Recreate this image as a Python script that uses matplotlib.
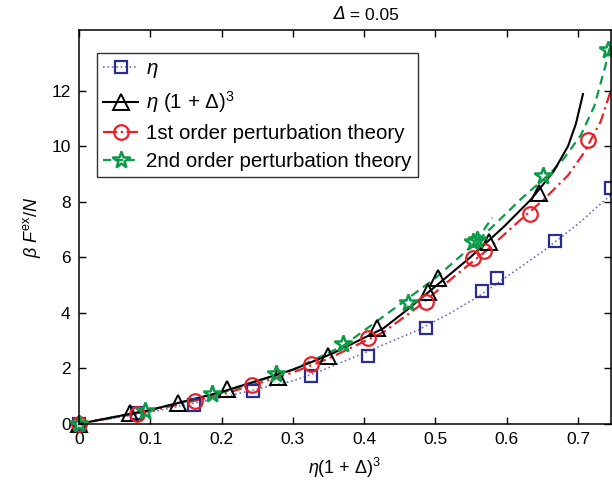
import numpy as np
import matplotlib
matplotlib.use("Agg")
import matplotlib.pyplot as plt
from matplotlib.lines import Line2D

plt.rcParams['font.family'] = ['Liberation Sans', 'DejaVu Sans']
plt.rcParams['mathtext.fontset'] = 'custom'
plt.rcParams['mathtext.rm'] = 'Liberation Sans'
plt.rcParams['mathtext.it'] = 'Liberation Sans:italic'

# markers
eta_x = [0.0, 0.081, 0.162, 0.244, 0.325, 0.406, 0.487, 0.566, 0.587, 0.668, 0.746]
eta_y = [0.0, 0.38, 0.69, 1.2, 1.74, 2.46, 3.44, 4.78, 5.25, 6.59, 8.5]

tri_x = [0.0, 0.072, 0.139, 0.207, 0.279, 0.35, 0.418, 0.489, 0.504, 0.575, 0.646]
tri_y = [0.0, 0.4, 0.76, 1.27, 1.70, 2.45, 3.44, 4.75, 5.25, 6.56, 8.33]

first_x = [0.0, 0.082, 0.163, 0.243, 0.325, 0.406, 0.487, 0.553, 0.568, 0.633, 0.714]
first_y = [0.0, 0.36, 0.83, 1.41, 2.17, 3.08, 4.38, 5.98, 6.23, 7.57, 10.22]

second_x = [0.0, 0.093, 0.186, 0.277, 0.37, 0.462, 0.553, 0.559, 0.651, 0.742]
second_y = [0.0, 0.47, 1.09, 1.81, 2.86, 4.35, 6.55, 6.62, 8.93, 13.45]

# fitted curves
eta_cx = [0.0, 0.1, 0.2, 0.3, 0.334, 0.404, 0.475, 0.521, 0.559, 0.6, 0.65, 0.7, 0.746]
eta_cy = [0.0, 0.42, 0.95, 1.55, 1.85, 2.6, 3.37, 3.99, 4.57, 5.3, 6.2, 7.2, 8.25]

tri_cx = [0.0, 0.1, 0.2, 0.3, 0.356, 0.427, 0.46, 0.5, 0.549, 0.596, 0.634, 0.666, 0.686, 0.697, 0.707]
tri_cy = [0.0, 0.5, 1.15, 1.95, 2.54, 3.44, 4.1, 4.95, 6.0, 7.1, 8.08, 9.1, 10.0, 10.8, 11.88]

first_cx = [0.0, 0.1, 0.2, 0.3, 0.35, 0.427, 0.475, 0.523, 0.573, 0.615, 0.652, 0.686, 0.708, 0.732, 0.746]
first_cy = [0.0, 0.47, 1.05, 1.85, 2.35, 3.3, 4.2, 5.24, 6.27, 7.25, 8.08, 8.95, 9.75, 10.9, 12.0]

second_cx = [0.0, 0.1, 0.2, 0.3, 0.37, 0.45, 0.5, 0.54, 0.58, 0.62, 0.66, 0.68, 0.704, 0.723, 0.739, 0.746]
second_cy = [0.0, 0.5, 1.12, 1.95, 2.8, 4.3, 5.25, 6.15, 7.1, 8.1, 9.0, 9.55, 10.4, 11.45, 12.95, 13.7]

branch_x = [0.556, 0.58]
branch_y = [6.56, 7.43]

blue_m = '#2B2D8E'
blue_l = '#6B6FC9'
red = '#E8202A'
green = '#0B9B4A'

fig = plt.figure(figsize=(6.12, 4.94), dpi=100)
ax = fig.add_axes([0.129, 0.142, 0.869, 0.798])

ax.plot(eta_cx, eta_cy, ':', color=blue_l, lw=1.2)
ax.plot(first_cx, first_cy, '-.', color=red, lw=1.6, dashes=(5, 2, 1, 2))
ax.plot(second_cx, second_cy, '--', color=green, lw=1.6, dashes=(4, 2.5))
ax.plot(branch_x, branch_y, '--', color=green, lw=1.6, dashes=(4, 2.5))
ax.plot(tri_cx, tri_cy, '-', color='black', lw=1.5)

ax.plot(eta_x, eta_y, 's', ms=8.5, mfc='none', mec=blue_m, mew=1.6, clip_on=False)
ax.plot(tri_x, tri_y, '^', ms=12, mfc='none', mec='black', mew=1.4, clip_on=False)
ax.plot(first_x, first_y, 'o', ms=10.5, mfc='none', mec=red, mew=1.6, clip_on=False)
ax.plot(second_x, second_y, '*', ms=13, mfc='none', mec=green, mew=1.8, clip_on=False)

ax.set_xlim(0, 0.746)
ax.set_ylim(0, 14.2)
ax.set_xticks([0, 0.1, 0.2, 0.3, 0.4, 0.5, 0.6, 0.7])
ax.set_xticklabels(['0', '0.1', '0.2', '0.3', '0.4', '0.5', '0.6', '0.7'])
ax.set_yticks([0, 2, 4, 6, 8, 10, 12])
ax.tick_params(direction='in', top=True, right=True, length=5, width=1,
               labelsize=12.5, pad=6)
for s in ax.spines.values():
    s.set_linewidth(1.1)

ax.set_xlabel(r'$\mathit{η}$(1 + $\mathit{Δ}$)$^3$', fontsize=13, labelpad=6)
ax.set_ylabel(r'$\mathit{β}$ $\mathit{F}^{\mathrm{ex}}$/$\mathit{N}$', fontsize=13, labelpad=6)
ax.text(0.5, 1.016, 'Δ', style='italic', fontsize=12.5, ha='right', va='bottom',
        transform=ax.transAxes, family='DejaVu Sans')
ax.text(0.5, 1.016, ' = 0.05', fontsize=12.5, ha='left', va='bottom', transform=ax.transAxes)

handles = [
    Line2D([], [], ls=':', color=blue_l, lw=1.2, marker='s', ms=8.5, mfc='none', mec=blue_m, mew=1.6),
    Line2D([], [], ls='-', color='black', lw=1.5, marker='^', ms=12, mfc='none', mec='black', mew=1.4),
    Line2D([], [], ls='-.', color=red, lw=1.6, marker='o', ms=10.5, mfc='none', mec=red, mew=1.6),
    Line2D([], [], ls='--', color=green, lw=1.6, marker='*', ms=13, mfc='none', mec=green, mew=1.8),
]
labels = [r'$\mathit{η}$', r'$\mathit{η}$ (1 + Δ)$^3$',
          '1st order perturbation theory', '2nd order perturbation theory']
leg = ax.legend(handles, labels, loc='upper left', bbox_to_anchor=(0.034, 0.94),
                fontsize=14.8, frameon=True, fancybox=False, edgecolor='black',
                handlelength=1.7, handletextpad=0.4, borderpad=0.3, labelspacing=0.43,
                borderaxespad=0)
leg.get_frame().set_linewidth(1.0)

fig.savefig('out.png', dpi=100)
